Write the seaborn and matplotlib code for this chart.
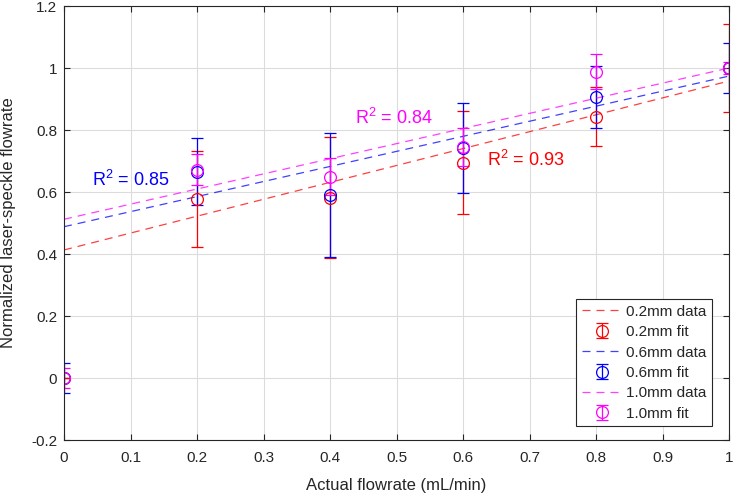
import numpy as np
import seaborn as sns
from matplotlib import pyplot as plt

# Measured points (normalized) and their error bars
flow = [0, 0.2, 0.4, 0.6, 0.8, 1.0]
red_y = [0, 0.577, 0.582, 0.695, 0.843, 1.0]
red_err = [0.0, 0.155, 0.195, 0.165, 0.095, 0.142]
blue_y = [0, 0.665, 0.590, 0.743, 0.907, 1.0]
blue_err = [0.049, 0.108, 0.200, 0.145, 0.100, 0.080]
mag_y = [0, 0.671, 0.649, 0.745, 0.988, 1.0]
mag_err = [0.031, 0.050, 0.060, 0.060, 0.056, 0.020]

# Fitted lines, read at the two ends of the axis
fit_x = [0, 1]
red_fit = [0.413, 0.958]
blue_fit = [0.488, 0.974]
mag_fit = [0.512, 1.000]

labels = ['0.2mm', '0.6mm', '1.0mm']

sns.set_style('whitegrid')
plt.rcParams['font.family'] = ['Liberation Sans', 'DejaVu Sans']
plt.rcParams['mathtext.fontset'] = 'custom'
plt.rcParams['mathtext.rm'] = 'Liberation Sans'

fig = plt.figure(figsize=(7.36, 4.98), dpi=100)
ax = fig.add_axes([64/736, 1 - 440/498, 665/736, 434/498])

colors = ['#ff0000', '#0000ff', '#ff00ff']
series = [(red_fit, red_y, red_err), (blue_fit, blue_y, blue_err), (mag_fit, mag_y, mag_err)]
handles = []
for (fit, y, err), c, lab in zip(series, colors, labels):
    sns.lineplot(x=fit_x, y=fit, ax=ax, color=c, linestyle=(0, (6.4, 4.8)), linewidth=0.9, alpha=0.75)
    line = ax.lines[-1]
    line.set_label(lab + ' data')
    eb = ax.errorbar(flow, y, yerr=err, fmt='o', color=c, markerfacecolor='none',
                     markersize=8.5, capsize=4, elinewidth=0.9, markeredgewidth=0.9,
                     label=lab + ' fit')
    handles += [line, eb]

# R^2 annotations
ax.text(0.042, 0.64, r'R$^\mathregular{2}$ = 0.85', color='#0000ff', fontsize=13, va='center')
ax.text(0.438, 0.84, r'R$^\mathregular{2}$ = 0.84', color='#ff00ff', fontsize=13, va='center')
ax.text(0.636, 0.703, r'R$^\mathregular{2}$ = 0.93', color='#ff0000', fontsize=13, va='center')

ax.set_xlim(0, 1)
ax.set_ylim(-0.2, 1.2)
ax.set_xticks(np.arange(0, 1.01, 0.1))
ax.set_xticklabels(['0', '0.1', '0.2', '0.3', '0.4', '0.5', '0.6', '0.7', '0.8', '0.9', '1'])
ax.set_yticks(np.arange(-0.2, 1.21, 0.2))
ax.set_yticklabels(['-0.2', '0', '0.2', '0.4', '0.6', '0.8', '1', '1.2'])
ax.tick_params(direction='in', length=4, width=0.8, color='#262626', labelcolor='#262626',
               labelsize=11, top=True, right=True, left=True, bottom=True)
ax.tick_params(axis='x', pad=8)
ax.tick_params(axis='y', pad=5)
ax.grid(True, color='#dcdcdc', linewidth=0.8)
for s in ax.spines.values():
    s.set_color('#262626')
    s.set_linewidth(0.8)

ax.set_xlabel('Actual flowrate (mL/min)', fontsize=12, color='#262626', labelpad=9)
ax.set_ylabel('Normalized laser-speckle flowrate', fontsize=12, color='#262626')
ax.yaxis.set_label_coords(-0.072, 0.5)

leg = ax.legend(handles=handles, loc='lower right', fontsize=11, frameon=True,
                fancybox=False, edgecolor='#262626', framealpha=1,
                handlelength=2.7, labelspacing=0.42, borderpad=0.35, handletextpad=0.2,
                borderaxespad=0, bbox_to_anchor=(0.974, 0.032))
leg.get_frame().set_linewidth(0.8)

fig.savefig('out.png', dpi=100)
